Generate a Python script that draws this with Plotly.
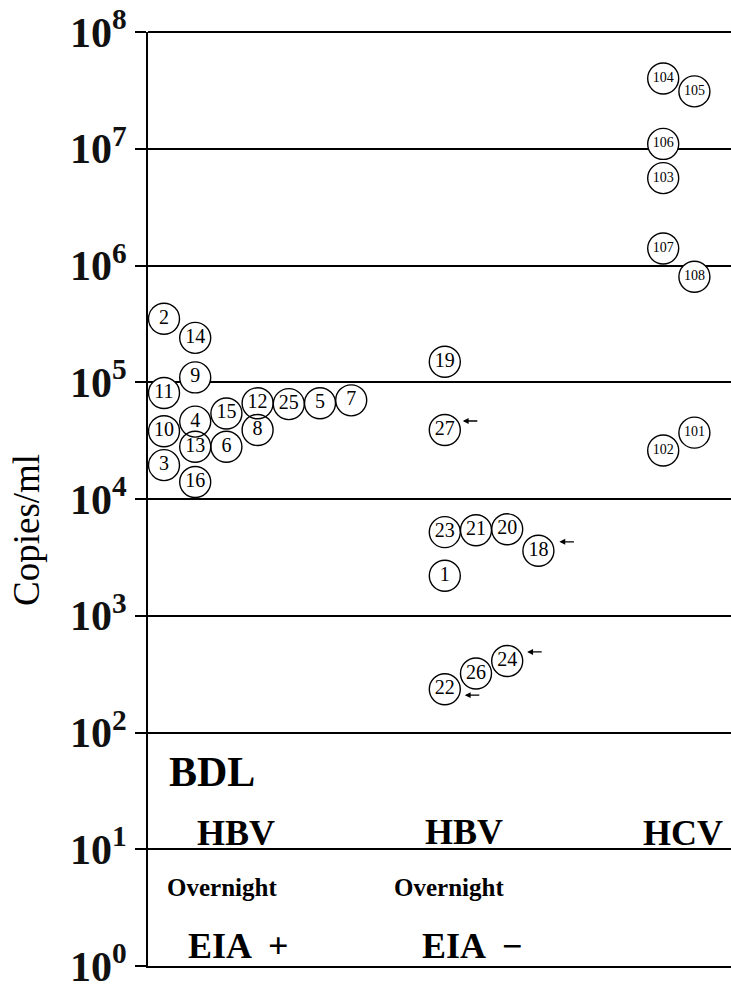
import plotly.graph_objects as go
import math

# ---------------- data ----------------
# x position expressed in "slot" units (column of circles, one circle width apart)
eia_pos_labels = ["2", "14", "9", "11", "4", "15", "12", "25", "5", "7", "10", "8", "13", "6", "3", "16"]
eia_pos_slots = [0, 1, 1, 0, 1, 2, 3, 4, 5, 6, 0, 3, 1, 2, 0, 1]
eia_pos_values = [3.5e5, 2.4e5, 1.1e5, 8.1e4, 4.6e4, 5.4e4, 6.6e4, 6.5e4, 6.6e4, 7.0e4,
                  3.8e4, 3.9e4, 2.8e4, 2.8e4, 1.95e4, 1.4e4]

eia_neg_labels = ["19", "27", "23", "21", "20", "18", "1", "22", "26", "24"]
eia_neg_slots = [9, 9, 9, 10, 11, 12, 9, 9, 10, 11]
eia_neg_values = [1.5e5, 3.9e4, 5.2e3, 5.4e3, 5.5e3, 3.6e3, 2.2e3, 235, 320, 410]

hcv_labels = ["104", "105", "106", "103", "107", "108", "101", "102"]
hcv_slots = [16, 17, 16, 16, 16, 17, 17, 16]
hcv_values = [4.0e7, 3.1e7, 1.1e7, 5.6e6, 1.4e6, 8.0e5, 3.7e4, 2.6e4]

# samples flagged with an arrow
arrow_samples = ["27", "18", "22", "24"]

tick_exponents = [0, 1, 2, 3, 4, 5, 6, 7, 8]
tick_labels = ["<b>10<sup>%d</sup></b>" % e for e in tick_exponents]

# ---------------- layout constants ----------------
W, H = 731, 990
ML, MR, MT, MB = 148, 0, 32, 24
SLOT_PX = 31.2
SLOT0_PX = 164
FONT = "Liberation Serif, Times New Roman, serif"

x_lo = (ML - SLOT0_PX) / SLOT_PX
x_hi = (W - MR - SLOT0_PX) / SLOT_PX


def px_x(px):
    return (px - ML) / (W - ML - MR)


def px_y(py):
    return (H - MB - py) / (H - MT - MB)


labels = eia_pos_labels + eia_neg_labels + hcv_labels
slots = eia_pos_slots + eia_neg_slots + hcv_slots
values = eia_pos_values + eia_neg_values + hcv_values
text_sizes = [14 if len(l) >= 3 else 20 for l in labels]

fig = go.Figure()

# white discs (hide grid lines beneath circles)
fig.add_trace(go.Scatter(
    x=slots, y=values, mode="markers",
    marker=dict(symbol="circle", size=31, color="white", line=dict(width=0)),
    hoverinfo="skip", showlegend=False))

# outlines + labels
fig.add_trace(go.Scatter(
    x=slots, y=values, mode="markers+text", text=labels,
    textposition="middle center",
    textfont=dict(family=FONT, size=text_sizes, color="black"),
    marker=dict(symbol="circle-open", size=31, color="black", line=dict(width=1.4)),
    showlegend=False))

# arrows next to flagged samples
arrow_shift = {"27": (18, 9), "18": (21, 9), "22": (20, -6), "24": (20, 9)}
for lab in arrow_samples:
    i = labels.index(lab)
    dx, dy = arrow_shift[lab]
    fig.add_annotation(x=slots[i], y=math.log10(values[i]), xref="x", yref="y",
                       text="", showarrow=True, ax=16, ay=0,
                       arrowhead=2, arrowsize=0.9, arrowwidth=1.3, arrowcolor="black",
                       xshift=dx, yshift=dy)

# group texts
texts = [
    ("BDL", 212, 772, 42),
    ("HBV", 236, 833, 36),
    ("HBV", 464, 832, 36),
    ("HCV", 683, 833, 36),
    ("Overnight", 222, 887, 25),
    ("Overnight", 449, 887, 25),
    ("EIA  +", 238, 946, 36),
    ("EIA  \u2212", 472, 946, 36),
]
for t, px, py, fs in texts:
    fig.add_annotation(x=px_x(px), y=px_y(py), xref="paper", yref="paper",
                       text="<b>%s</b>" % t, showarrow=False,
                       xanchor="center", yanchor="middle",
                       font=dict(family=FONT, size=fs, color="black"))

# y-axis title
fig.add_annotation(x=px_x(26), y=px_y(530), xref="paper", yref="paper",
                   text="Copies/ml", showarrow=False, textangle=-90,
                   xanchor="center", yanchor="middle",
                   font=dict(family=FONT, size=37, color="black"))

# top grid line (plotly omits the grid line at the range edge)
fig.add_shape(type="line", xref="paper", yref="paper", x0=0, x1=1, y0=1, y1=1,
              line=dict(color="black", width=2), layer="below")

fig.update_layout(
    width=W, height=H,
    margin=dict(l=ML, r=MR, t=MT, b=MB, pad=0),
    paper_bgcolor="white", plot_bgcolor="white",
    showlegend=False,
    xaxis=dict(range=[x_lo, x_hi], showgrid=False, zeroline=False,
               showticklabels=False, ticks="", showline=True,
               linecolor="black", linewidth=2),
    yaxis=dict(type="log", range=[0, 8],
               tickvals=[10 ** e for e in tick_exponents], ticktext=tick_labels,
               tickfont=dict(family=FONT, size=42, color="#111"),
               ticks="outside", ticklen=11, tickwidth=2, tickcolor="black",
               showline=True, linecolor="black", linewidth=2,
               showgrid=True, gridcolor="black", gridwidth=2,
               zeroline=False),
)

fig.write_html("out.html", config={"displayModeBar": False},
               post_script="document.body.style.margin='0';document.body.style.overflow='hidden';")
